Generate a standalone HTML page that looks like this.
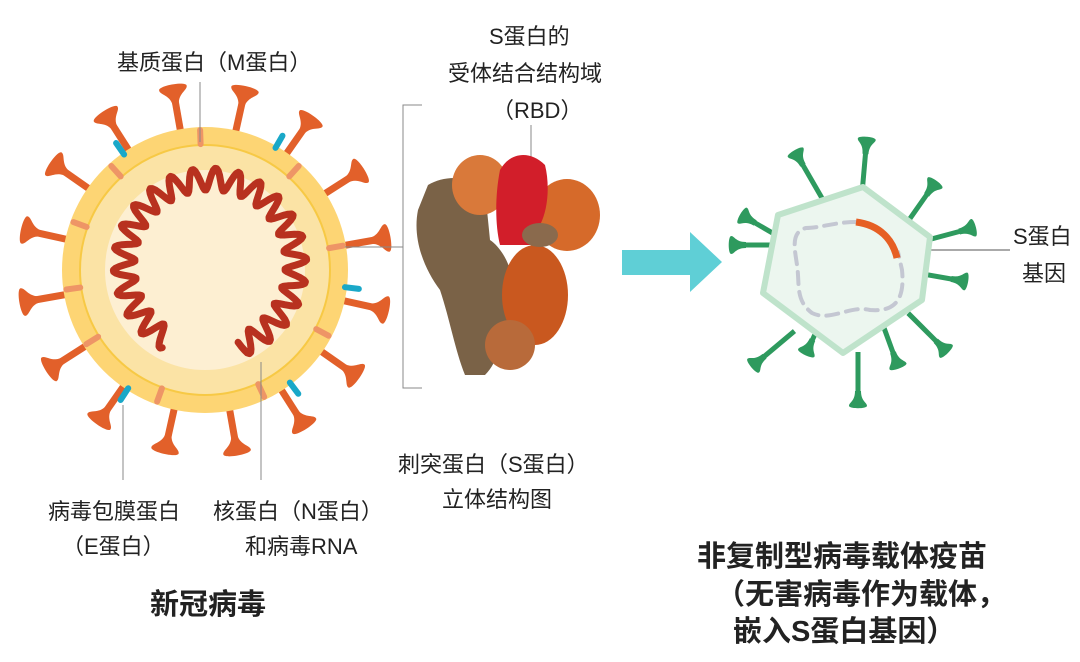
<!DOCTYPE html>
<html><head><meta charset="utf-8">
<style>
body{margin:0;background:#fff;}
svg{display:block}
text{font-family:"Liberation Sans","Noto Sans CJK SC",sans-serif;fill:#222;}
</style></head><body>
<svg id="s" width="1080" height="662" viewBox="0 0 1080 662" xmlns="http://www.w3.org/2000/svg">
<g id="spikes"></g>
<circle cx="205" cy="270" r="143" fill="#fdd574"/>
<circle cx="205" cy="270" r="125" fill="#fbe3a5" stroke="#f7c945" stroke-width="2"/>
<circle cx="205" cy="270" r="100" fill="#fdefd2"/>
<g id="marks"></g>
<path id="rna" fill="none" stroke="#b8311f" stroke-width="7" stroke-linecap="round" stroke-linejoin="round"/>
<g stroke="#888" stroke-width="1" fill="none">
<line x1="200" y1="82" x2="200" y2="142"/>
<line x1="123" y1="405" x2="123" y2="480"/>
<line x1="261" y1="362" x2="261" y2="480"/>
<line x1="345" y1="247" x2="403" y2="247"/>
<polyline points="422,105 403,105 403,388 422,388"/>
<line x1="531" y1="125" x2="531" y2="160"/>
<line x1="895" y1="250" x2="1010" y2="250" stroke="#555"/>
</g>
<g>
<path d="M428,185 C445,175 470,175 485,190 L490,240 C505,250 520,280 510,310 C500,340 500,360 485,375 L465,375 C455,350 450,320 440,290 C425,270 412,240 418,210 Z" fill="#7a6247"/>
<ellipse cx="480" cy="185" rx="28" ry="30" fill="#d9793a"/>
<ellipse cx="567" cy="215" rx="33" ry="36" fill="#d66a2a"/>
<ellipse cx="535" cy="295" rx="33" ry="50" fill="#c9581f"/>
<ellipse cx="510" cy="345" rx="25" ry="25" fill="#b86a3a"/>
<path d="M500,170 C510,152 530,150 545,165 C550,185 548,210 540,225 L530,245 L500,245 C495,225 495,195 500,170 Z" fill="#d21e2a"/>
<ellipse cx="540" cy="235" rx="18" ry="12" fill="#8a6a4d"/>
</g>
<polygon points="622,250 690,250 690,232 722,262 690,292 690,275 622,275" fill="#5fcfd6"/>
<g id="vsp"></g>
<polygon points="863,187 930,237 922,300 843,353 763,293 778,215" fill="#ecf6ef" stroke="#bfe3cb" stroke-width="6" stroke-linejoin="round"/>
<path d="M856,222 C835,222 820,228 806,228 C790,232 795,250 797,265 C800,285 795,300 812,313 C830,322 850,305 870,310 C895,312 905,300 902,270 L898,252" fill="none" stroke="#c4c7d2" stroke-width="4" stroke-dasharray="12,8" stroke-linecap="round"/>
<path d="M856,222 C880,225 893,240 897,258" fill="none" stroke="#e65f24" stroke-width="7"/>
<g font-size="22">
<text x="117" y="70">基质蛋白（M蛋白）</text>
<text x="489" y="44">S蛋白的</text>
<text x="448" y="81">受体结合结构域</text>
<text x="492" y="118">（RBD）</text>
<text x="398" y="472">刺突蛋白（S蛋白）</text>
<text x="442" y="507">立体结构图</text>
<text x="48" y="519">病毒包膜蛋白</text>
<text x="62" y="554">（E蛋白）</text>
<text x="213" y="519">核蛋白（N蛋白）</text>
<text x="245" y="554">和病毒RNA</text>
<text x="1013" y="244">S蛋白</text>
<text x="1022" y="281">基因</text>
</g>
<g font-size="29" font-weight="bold">
<text x="150" y="614">新冠病毒</text>
<text x="697" y="566">非复制型病毒载体疫苗</text>
<text x="716" y="604">（无害病毒作为载体，</text>
<text x="733" y="641">嵌入S蛋白基因）</text>
</g>
</svg>
<script>
var NS="http://www.w3.org/2000/svg";
function el(p,t,a){var e=document.createElementNS(NS,t);for(var k in a)e.setAttribute(k,a[k]);p.appendChild(e);return e;}
function cap(g,x,y,ang,col,w,h){
 var gg=el(g,"g",{transform:"translate("+x+","+y+") rotate("+ang+")"});
 el(gg,"path",{d:"M-3,6 C-3,-"+(h*0.4)+" -"+w+",-"+(h*0.5)+" -"+w+",-"+(h*0.8)+" C-"+w+",-"+(h*1.1)+" "+w+",-"+(h*1.1)+" "+w+",-"+(h*0.8)+" C"+w+",-"+(h*0.5)+" 3,-"+(h*0.4)+" 3,6Z",fill:col});
}
var sp=document.getElementById("spikes");
for(var i=0;i<16;i++){var ang=-10+i*22.5,a=ang*Math.PI/180,dx=Math.sin(a),dy=-Math.cos(a);
 var x1=205+dx*130,y1=270+dy*130,x2=205+dx*172,y2=270+dy*172;
 el(sp,"line",{x1:x1,y1:y1,x2:x2,y2:y2,stroke:"#e2602a","stroke-width":7});
 cap(sp,x2,y2,ang,"#e2602a",14,16);}
var mk=document.getElementById("marks");
function mark(ang,r,col){var a=ang*Math.PI/180;var x=205+Math.sin(a)*r,y=270-Math.cos(a)*r;
 var g=el(mk,"g",{transform:"translate("+x+","+y+") rotate("+ang+")"});el(g,"line",{x1:0,y1:-7,x2:0,y2:7,stroke:col,"stroke-width":6,"stroke-linecap":"round"});}
[-2,42,80,118,155,200,238,262,290,318].forEach(function(a){mark(a,133,"#ee9566");});
[-35,30,97,143,213].forEach(function(a){mark(a,148,"#1aa8c8");});
var d="";var first=true;
for(var t=-150;t<=160;t+=1){var a=t*Math.PI/180;var r=86+11*Math.sin(t*Math.PI/180*26);
 var x=210+Math.sin(a)*r,y=265-Math.cos(a)*r;d+=(first?"M":"L")+x.toFixed(1)+","+y.toFixed(1);first=false;}
document.getElementById("rna").setAttribute("d",d);
var vs=document.getElementById("vsp");
var pts=[[866,148,5],[930,190,35],[965,230,75],[957,280,100],[940,345,135],[858,397,180],[760,360,230],[740,245,270],[750,220,300],[800,160,330],[810,345,205],[895,358,160]];
pts.forEach(function(p){var a=p[2]*Math.PI/180;var L=45;
 var x0=p[0]-Math.sin(a)*L,y0=p[1]+Math.cos(a)*L;
 el(vs,"line",{x1:x0,y1:y0,x2:p[0],y2:p[1],stroke:"#2e9a5e","stroke-width":5});
 cap(vs,p[0],p[1],p[2],"#2e9a5e",9,11);});
</script>
</body></html>
